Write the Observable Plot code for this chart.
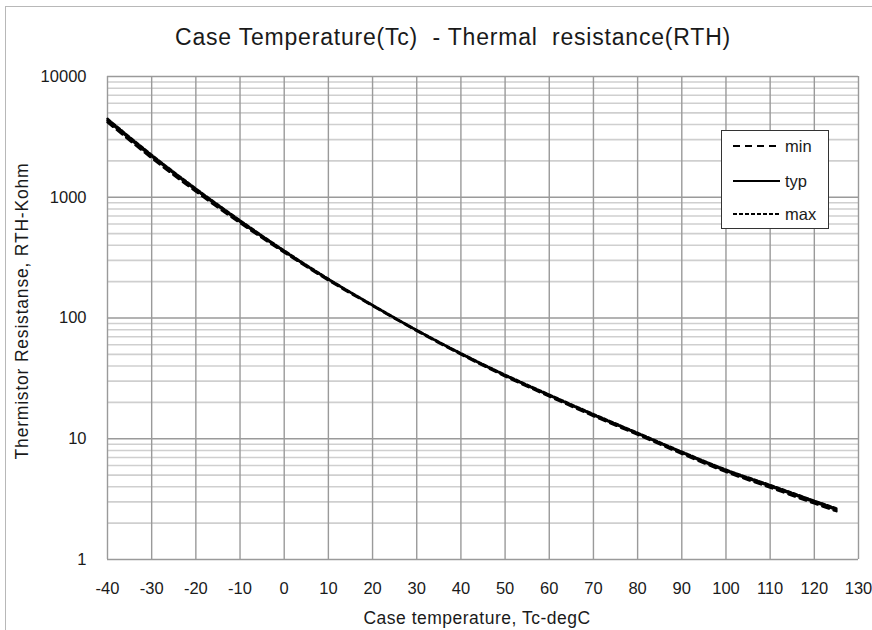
<!DOCTYPE html>
<html>
<head>
<meta charset="utf-8">
<script src="https://cdn.jsdelivr.net/npm/d3@7"></script>
<script src="https://cdn.jsdelivr.net/npm/@observablehq/plot@0.6"></script>
<style>
  html, body { margin: 0; padding: 0; background: #fff; overflow: hidden; }
  body { width: 872px; height: 630px; position: relative; font-family: "Liberation Sans", Arial, sans-serif; color: #1a1a1a; }
  #frame { position: absolute; left: 5px; top: 6px; width: 900px; height: 700px; border: 1.5px solid #b8b8b8; box-sizing: border-box; }
  #chart { position: absolute; left: 0; top: 0; }
  #title { position: absolute; left: 0; width: 906px; top: 24px; text-align: center; font-size: 23px; letter-spacing: 0.8px; white-space: pre; }
  #ylabel { position: absolute; left: 22px; top: 311px; transform: translate(-50%, -50%) rotate(-90deg); font-size: 17.5px; letter-spacing: 0.8px; white-space: pre; }
  #xlabel { position: absolute; left: 477px; top: 608px; transform: translateX(-50%); font-size: 17.5px; letter-spacing: 0.5px; white-space: pre; }
  #legend { position: absolute; left: 721px; top: 130px; width: 108px; height: 99px; border: 1.5px solid #333; box-sizing: border-box; background: #fff; }
  #legend svg { position: absolute; left: 0; top: 0; }
</style>
</head>
<body>
<div id="frame"></div>
<div id="chart"></div>
<div id="title">Case Temperature(Tc)  - Thermal  resistance(RTH)</div>
<div id="ylabel">Thermistor Resistanse, RTH-Kohm</div>
<div id="xlabel">Case temperature, Tc-degC</div>
<div id="legend"></div>
<script>
// Data (resistance in kOhm)
const temps = [-40, -30, -20, -10, 0, 10, 20, 30, 40, 50, 60, 70, 80, 90, 100, 110, 120, 125];
const rTyp  = [4325, 2178, 1148, 628, 355, 208, 127, 78.9, 50.5, 33.4, 22.8, 15.7, 11.0, 7.66, 5.43, 4.04, 2.99, 2.58];
const rMin  = [4180, 2110, 1115, 612, 349, 205, 126, 78.2, 49.9, 32.9, 22.4, 15.4, 10.8, 7.50, 5.31, 3.94, 2.91, 2.51];
const rMax  = [4470, 2245, 1180, 644, 362, 211, 128, 79.6, 51.1, 33.9, 23.2, 16.0, 11.2, 7.82, 5.55, 4.14, 3.07, 2.65];

const xTicks = [-40, -30, -20, -10, 0, 10, 20, 30, 40, 50, 60, 70, 80, 90, 100, 110, 120, 130];
const xTickLabels = ["-40", "-30", "-20", "-10", "0", "10", "20", "30", "40", "50", "60", "70", "80", "90", "100", "110", "120", "130"];
const yTicks = [1, 10, 100, 1000, 10000];
const yTickLabels = ["1", "10", "100", "1000", "10000"];
const minorMult = [2, 3, 4, 5, 6, 7, 8, 9];

const seriesNames = ["min", "typ", "max"];
const seriesDash = {min: "7,5", typ: null, max: "4,2"};

const rows = [];
seriesNames.forEach((s, si) => {
  const vals = [rMin, rTyp, rMax][si];
  temps.forEach((t, i) => rows.push({series: s, t, r: vals[i]}));
});
const yMinor = yTicks.slice(0, -1).flatMap(d => minorMult.map(m => d * m));

const plot = Plot.plot({
  width: 872,
  height: 630,
  marginLeft: 107,
  marginRight: 14,
  marginTop: 76,
  marginBottom: 71,
  style: {fontFamily: "Liberation Sans, Arial, sans-serif", fontSize: "16.5px", color: "#1a1a1a", background: "transparent"},
  x: {domain: [-40, 130], ticks: xTicks, label: null},
  y: {type: "log", domain: [1, 10000], ticks: yTicks, label: null},
  marks: [
    Plot.ruleY(yMinor, {stroke: "#cfcfcf", strokeWidth: 1.6}),
    Plot.ruleY(yTicks, {stroke: "#9a9a9a", strokeWidth: 1.4}),
    Plot.ruleX(xTicks, {stroke: "#9a9a9a", strokeWidth: 1.4}),
    Plot.axisX({ticks: xTicks, tickFormat: d => xTickLabels[xTicks.indexOf(d)], tickSize: 0, tickPadding: 23, fontSize: 16.5, label: null}),
    Plot.axisY({ticks: yTicks, tickFormat: d => yTickLabels[yTicks.indexOf(d)], tickSize: 0, tickPadding: 21, fontSize: 16.5, label: null}),
    ...seriesNames.map(s => Plot.line(rows.filter(d => d.series === s), {
      x: "t", y: "r", stroke: "#000", strokeWidth: 2.4, curve: "monotone-x",
      strokeDasharray: seriesDash[s]
    }))
  ]
});
document.getElementById("chart").appendChild(plot);

// Legend
const legendItems = [
  {name: "min", dash: "7,5", y: 15},
  {name: "typ", dash: null, y: 50},
  {name: "max", dash: "4,2", y: 83}
];
const ns = "http://www.w3.org/2000/svg";
const lsvg = document.createElementNS(ns, "svg");
lsvg.setAttribute("width", 108);
lsvg.setAttribute("height", 99);
legendItems.forEach(it => {
  const ln = document.createElementNS(ns, "line");
  ln.setAttribute("x1", 11); ln.setAttribute("x2", 58);
  ln.setAttribute("y1", it.y); ln.setAttribute("y2", it.y);
  ln.setAttribute("stroke", "#000"); ln.setAttribute("stroke-width", 2.2);
  if (it.dash) ln.setAttribute("stroke-dasharray", it.dash);
  lsvg.appendChild(ln);
  const tx = document.createElementNS(ns, "text");
  tx.setAttribute("x", 63); tx.setAttribute("y", it.y);
  tx.setAttribute("dy", "0.35em");
  tx.setAttribute("font-size", "16.5px");
  tx.setAttribute("font-family", "Liberation Sans, Arial, sans-serif");
  tx.setAttribute("fill", "#1a1a1a");
  tx.textContent = it.name;
  lsvg.appendChild(tx);
});
document.getElementById("legend").appendChild(lsvg);
</script>
</body>
</html>
